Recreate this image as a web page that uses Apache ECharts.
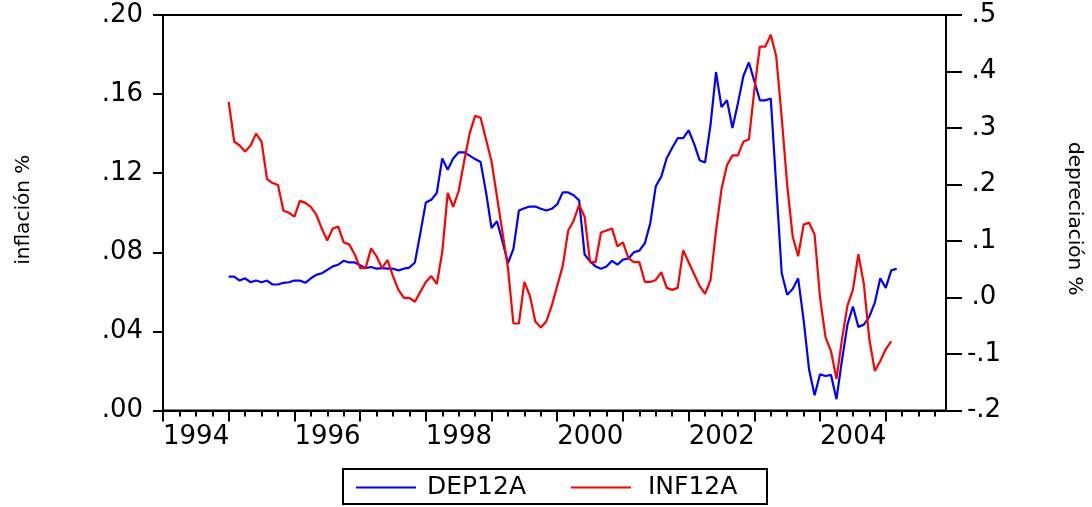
<!DOCTYPE html>
<html><head><meta charset="utf-8">
<script src="https://cdn.jsdelivr.net/npm/echarts@6/dist/echarts.min.js"></script>
<style>html,body{margin:0;padding:0;background:#fff}#c{width:1092px;height:507px}</style>
</head><body><div id="c"></div>
<script>
// Monthly axis 1994M01 .. 2005M12
const years = [1994, 1995, 1996, 1997, 1998, 1999, 2000, 2001, 2002, 2003, 2004, 2005];
const firstObs = '1995M01';

// DEP12A (depreciación, right axis), monthly from 1995M01
const dep12a = [
  0.037, 0.037, 0.030, 0.034, 0.027, 0.030, 0.027, 0.030, 0.023, 0.023, 0.026, 0.027,
  0.030, 0.030, 0.026, 0.034, 0.040, 0.043, 0.049, 0.055, 0.058, 0.065, 0.062, 0.062,
  0.057, 0.052, 0.054, 0.051, 0.052, 0.051, 0.051, 0.048, 0.051, 0.053, 0.062, 0.114,
  0.168, 0.173, 0.185, 0.246, 0.226, 0.246, 0.257, 0.257, 0.251, 0.245, 0.240, 0.186,
  0.123, 0.135, 0.099, 0.061, 0.086, 0.154, 0.158, 0.161, 0.161, 0.157, 0.154, 0.157,
  0.165, 0.186, 0.186, 0.181, 0.172, 0.076, 0.064, 0.055, 0.051, 0.055, 0.065, 0.058,
  0.067, 0.069, 0.080, 0.083, 0.096, 0.132, 0.197, 0.214, 0.247, 0.265, 0.282, 0.282,
  0.296, 0.272, 0.243, 0.239, 0.306, 0.399, 0.337, 0.349, 0.300, 0.344, 0.392, 0.416,
  0.383, 0.349, 0.349, 0.352, 0.197, 0.043, 0.005, 0.015, 0.034, -0.040, -0.128, -0.173,
  -0.136, -0.139, -0.137, -0.180, -0.111, -0.048, -0.016, -0.052, -0.048, -0.034, -0.009, 0.034,
  0.017, 0.048, 0.051
];

// INF12A (inflación, left axis), monthly from 1995M01
const inf12a = [
  0.156, 0.136, 0.134, 0.131, 0.134, 0.140, 0.136, 0.117, 0.115, 0.114, 0.101, 0.100,
  0.098, 0.106, 0.105, 0.103, 0.099, 0.092, 0.086, 0.092, 0.093, 0.085, 0.084, 0.079,
  0.072, 0.072, 0.082, 0.078, 0.072, 0.076, 0.068, 0.061, 0.057, 0.057, 0.055, 0.060,
  0.065, 0.068, 0.064, 0.080, 0.110, 0.103, 0.111, 0.126, 0.140, 0.149, 0.148, 0.137,
  0.126, 0.108, 0.090, 0.072, 0.044, 0.044, 0.065, 0.058, 0.045, 0.042, 0.045, 0.053,
  0.063, 0.073, 0.091, 0.096, 0.104, 0.098, 0.075, 0.075, 0.090, 0.091, 0.092, 0.083,
  0.085, 0.077, 0.075, 0.075, 0.065, 0.065, 0.066, 0.070, 0.062, 0.061, 0.062, 0.081,
  0.075, 0.069, 0.063, 0.059, 0.066, 0.091, 0.112, 0.124, 0.129, 0.129, 0.136, 0.137,
  0.162, 0.184, 0.184, 0.190, 0.179, 0.148, 0.114, 0.088, 0.078, 0.094, 0.095, 0.089,
  0.057, 0.037, 0.030, 0.016, 0.036, 0.053, 0.061, 0.079, 0.064, 0.036, 0.020, 0.025,
  0.031, 0.035
];

const months = [];
years.forEach(function (y) {
  for (let m = 1; m <= 12; m++) months.push(y + 'M' + String(m).padStart(2, '0'));
});
const start = months.indexOf(firstObs);
const pad = new Array(start).fill(null);

const font = 'DejaVu Sans';
const black = '#000000';
const gridRect = { left: 163, top: 15, width: 783, height: 395.5 };

const chart = echarts.init(document.getElementById('c'));
chart.setOption({
  animation: false,
  backgroundColor: '#ffffff',
  grid: [
    Object.assign({ show: true, borderColor: black, borderWidth: 2, backgroundColor: 'transparent' }, gridRect),
    Object.assign({ show: false }, gridRect)
  ],
  legend: {
    left: 343, top: 469,
    padding: [4, 9, 2, 13],
    itemGap: 20, itemWidth: 60, itemHeight: 2, icon: 'rect',
    borderColor: black, borderWidth: 2,
    textStyle: { fontFamily: font, fontSize: 25, color: black, lineHeight: 29, width: 124, padding: [0, 0, 0, 6] },
    data: [
      { name: 'DEP12A' },
      { name: 'INF12A', textStyle: { width: 110, padding: [0, 0, 0, 12] } }
    ]
  },
  xAxis: [
    {
      type: 'category', gridIndex: 0, data: months, boundaryGap: false, position: 'bottom',
      axisLine: { lineStyle: { color: black, width: 2 } },
      axisTick: { interval: function (i) { return i % 3 === 0; }, length: 6, lineStyle: { color: black, width: 2 } },
      axisLabel: {
        interval: function (i) { return i % 24 === 0; },
        formatter: function (v) { return v.slice(0, 4); },
        align: 'left', margin: 14, color: black, fontFamily: font, fontSize: 26
      },
      splitLine: { show: false }
    },
    {
      type: 'category', gridIndex: 1, data: months, boundaryGap: false, position: 'bottom',
      axisLine: { show: false },
      axisTick: { interval: function (i) { return i % 12 === 0; }, length: 11, lineStyle: { color: black, width: 2 } },
      axisLabel: { show: false },
      splitLine: { show: false }
    }
  ],
  yAxis: [
    {
      type: 'value', gridIndex: 0, position: 'left', min: 0, max: 0.2, interval: 0.04,
      name: 'inflación %', nameLocation: 'middle', nameRotate: 90, nameGap: 129,
      nameTextStyle: { fontFamily: font, fontSize: 20, color: black, padding: [0, 0, 0, 6] },
      axisLine: { show: true, lineStyle: { color: black, width: 2 } },
      axisTick: { show: true, length: 10, lineStyle: { color: black, width: 2 } },
      axisLabel: {
        formatter: function (v) { return v.toFixed(2).replace(/^0/, ''); },
        margin: 20, fontFamily: font, fontSize: 26, color: black
      },
      splitLine: { show: false }
    },
    {
      type: 'value', gridIndex: 0, position: 'right', min: -0.2, max: 0.5, interval: 0.1,
      name: 'depreciación %', nameLocation: 'middle', nameRotate: -90, nameGap: 118,
      nameTextStyle: { fontFamily: font, fontSize: 20, color: black, padding: [0, 0, 0, 12] },
      axisLine: { show: true, lineStyle: { color: black, width: 2 } },
      axisTick: { show: true, length: 16, lineStyle: { color: black, width: 2 } },
      axisLabel: {
        formatter: function (v) { return v.toFixed(1).replace('0.', '.'); },
        margin: 38, align: 'center', fontFamily: font, fontSize: 26, color: black
      },
      splitLine: { show: false }
    },
    { type: 'value', gridIndex: 1, show: false, min: 0, max: 1 }
  ],
  series: [
    {
      name: 'DEP12A', type: 'line', xAxisIndex: 0, yAxisIndex: 1,
      data: pad.concat(dep12a), symbol: 'none', showSymbol: false,
      color: '#0000ff', lineStyle: { color: '#0000ff', width: 2.2 }, itemStyle: { color: '#0000ff' }, z: 2
    },
    {
      name: 'INF12A', type: 'line', xAxisIndex: 0, yAxisIndex: 0,
      data: pad.concat(inf12a), symbol: 'none', showSymbol: false,
      color: '#ff0000', lineStyle: { color: '#ff0000', width: 2.2 }, itemStyle: { color: '#ff0000' }, z: 3
    }
  ]
});
</script>
</body></html>
